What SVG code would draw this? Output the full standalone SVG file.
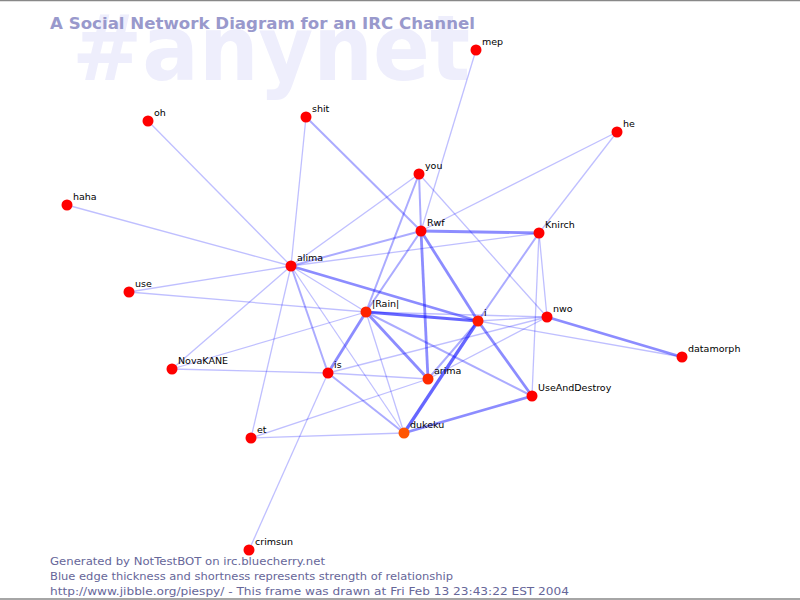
<svg xmlns="http://www.w3.org/2000/svg" width="800" height="600" viewBox="0 0 800 600">
<style>
.bg{font-family:"DejaVu Sans","Liberation Sans",sans-serif;font-weight:bold;font-size:90px;fill:#eeeefc}
.title{font-family:"DejaVu Sans","Liberation Sans",sans-serif;font-weight:bold;font-size:16.5px;fill:#9999cc}
.foot{font-family:"DejaVu Sans","Liberation Sans",sans-serif;font-size:11px;fill:#666699}
.lbl{font-family:"DejaVu Sans","Liberation Sans",sans-serif;font-size:9.5px;fill:#000}
.n{fill:#ff0000}
.e1{stroke:#0000ff;stroke-opacity:0.25;stroke-width:1.3}
.e2{stroke:#0000ff;stroke-opacity:0.33;stroke-width:2}
.e3{stroke:#0000ff;stroke-opacity:0.45;stroke-width:2.8}
.e4{stroke:#0000ff;stroke-opacity:0.6;stroke-width:3.2}
</style>
<rect x="0" y="0" width="800" height="600" fill="#ffffff"/>
<line x1="0" y1="0.5" x2="800" y2="0.5" stroke="#888888" stroke-width="1.5"/>
<line x1="0" y1="599" x2="800" y2="599" stroke="#888888" stroke-width="1.5"/>
<text class="bg" x="72" y="80" textLength="398" lengthAdjust="spacingAndGlyphs">#anynet</text>
<text class="title" x="50" y="29" textLength="425" lengthAdjust="spacingAndGlyphs">A Social Network Diagram for an IRC Channel</text>
<g id="connectors" fill="none">
<line class="e1" x1="476" y1="50" x2="421" y2="231"/>
<line class="e1" x1="148" y1="121" x2="291" y2="266"/>
<line class="e1" x1="306" y1="117" x2="291" y2="266"/>
<line class="e1" x1="67" y1="205" x2="291" y2="266"/>
<line class="e1" x1="617" y1="132" x2="421" y2="231"/>
<line class="e1" x1="617" y1="132" x2="539" y2="233"/>
<line class="e1" x1="419" y1="174" x2="291" y2="266"/>
<line class="e1" x1="419" y1="174" x2="547" y2="317"/>
<line class="e1" x1="129" y1="292" x2="291" y2="266"/>
<line class="e1" x1="129" y1="292" x2="366" y2="312"/>
<line class="e1" x1="172" y1="369" x2="291" y2="266"/>
<line class="e1" x1="172" y1="369" x2="366" y2="312"/>
<line class="e1" x1="172" y1="369" x2="328" y2="373"/>
<line class="e1" x1="251" y1="438" x2="291" y2="266"/>
<line class="e1" x1="251" y1="438" x2="404" y2="433"/>
<line class="e1" x1="251" y1="438" x2="428" y2="379"/>
<line class="e1" x1="249" y1="550" x2="328" y2="373"/>
<line class="e1" x1="291" y1="266" x2="539" y2="233"/>
<line class="e1" x1="291" y1="266" x2="404" y2="433"/>
<line class="e1" x1="291" y1="266" x2="366" y2="312"/>
<line class="e1" x1="366" y1="312" x2="404" y2="433"/>
<line class="e1" x1="366" y1="312" x2="547" y2="317"/>
<line class="e1" x1="539" y1="233" x2="547" y2="317"/>
<line class="e1" x1="539" y1="233" x2="532" y2="396"/>
<line class="e1" x1="478" y1="321" x2="547" y2="317"/>
<line class="e1" x1="478" y1="321" x2="682" y2="357"/>
<line class="e1" x1="328" y1="373" x2="547" y2="317"/>
<line class="e1" x1="328" y1="373" x2="428" y2="379"/>
<line class="e1" x1="428" y1="379" x2="547" y2="317"/>
<line class="e2" x1="306" y1="117" x2="421" y2="231"/>
<line class="e2" x1="419" y1="174" x2="421" y2="231"/>
<line class="e2" x1="419" y1="174" x2="366" y2="312"/>
<line class="e2" x1="421" y1="231" x2="366" y2="312"/>
<line class="e2" x1="291" y1="266" x2="421" y2="231"/>
<line class="e2" x1="291" y1="266" x2="328" y2="373"/>
<line class="e2" x1="539" y1="233" x2="478" y2="321"/>
<line class="e2" x1="366" y1="312" x2="532" y2="396"/>
<line class="e2" x1="328" y1="373" x2="404" y2="433"/>
<line class="e2" x1="478" y1="321" x2="428" y2="379"/>
<line class="e3" x1="291" y1="266" x2="478" y2="321"/>
<line class="e3" x1="421" y1="231" x2="478" y2="321"/>
<line class="e3" x1="421" y1="231" x2="428" y2="379"/>
<line class="e3" x1="421" y1="231" x2="539" y2="233"/>
<line class="e3" x1="478" y1="321" x2="532" y2="396"/>
<line class="e3" x1="547" y1="317" x2="682" y2="357"/>
<line class="e3" x1="404" y1="433" x2="532" y2="396"/>
<line class="e3" x1="366" y1="312" x2="328" y2="373"/>
<line class="e3" x1="366" y1="312" x2="428" y2="379"/>
<line class="e4" x1="478" y1="321" x2="404" y2="433"/>
<line class="e4" x1="366" y1="312" x2="478" y2="321"/>
</g>
<g id="node-mep"><circle class="n" cx="476" cy="50" r="5.5"/><text class="lbl" x="482" y="45">mep</text></g>
<g id="node-oh"><circle class="n" cx="148" cy="121" r="5.5"/><text class="lbl" x="154" y="116">oh</text></g>
<g id="node-shit"><circle class="n" cx="306" cy="117" r="5.5"/><text class="lbl" x="312" y="112">shit</text></g>
<g id="node-he"><circle class="n" cx="617" cy="132" r="5.5"/><text class="lbl" x="623" y="127">he</text></g>
<g id="node-you"><circle class="n" cx="419" cy="174" r="5.5"/><text class="lbl" x="425" y="169">you</text></g>
<g id="node-haha"><circle class="n" cx="67" cy="205" r="5.5"/><text class="lbl" x="73" y="200">haha</text></g>
<g id="node-Rwf"><circle class="n" cx="421" cy="231" r="5.5"/><text class="lbl" x="427" y="226">Rwf</text></g>
<g id="node-Knirch"><circle class="n" cx="539" cy="233" r="5.5"/><text class="lbl" x="545" y="228">Knirch</text></g>
<g id="node-alima"><circle class="n" cx="291" cy="266" r="5.5"/><text class="lbl" x="297" y="261">alima</text></g>
<g id="node-use"><circle class="n" cx="129" cy="292" r="5.5"/><text class="lbl" x="135" y="287">use</text></g>
<g id="node-Rain"><circle cx="366" cy="312" r="5.5" fill="#ff2200"/><text class="lbl" x="372" y="307">|Rain|</text></g>
<g id="node-i"><circle cx="478" cy="321" r="5.5" fill="#ff1a00"/><text class="lbl" x="484" y="316">i</text></g>
<g id="node-nwo"><circle class="n" cx="547" cy="317" r="5.5"/><text class="lbl" x="553" y="312">nwo</text></g>
<g id="node-datamorph"><circle class="n" cx="682" cy="357" r="5.5"/><text class="lbl" x="688" y="352">datamorph</text></g>
<g id="node-NovaKANE"><circle class="n" cx="172" cy="369" r="5.5"/><text class="lbl" x="178" y="364">NovaKANE</text></g>
<g id="node-is"><circle class="n" cx="328" cy="373" r="5.5"/><text class="lbl" x="334" y="368">is</text></g>
<g id="node-arima"><circle cx="428" cy="379" r="5.5" fill="#ff2a00"/><text class="lbl" x="434" y="374">arima</text></g>
<g id="node-UseAndDestroy"><circle class="n" cx="532" cy="396" r="5.5"/><text class="lbl" x="538" y="391">UseAndDestroy</text></g>
<g id="node-et"><circle class="n" cx="251" cy="438" r="5.5"/><text class="lbl" x="257" y="433">et</text></g>
<g id="node-dukeku"><circle cx="404" cy="433" r="5.5" fill="#ff5500"/><text class="lbl" x="410" y="428">dukeku</text></g>
<g id="node-crimsun"><circle class="n" cx="249" cy="550" r="5.5"/><text class="lbl" x="255" y="545">crimsun</text></g>
<text class="foot" x="50" y="565" textLength="275" lengthAdjust="spacingAndGlyphs">Generated by NotTestBOT on irc.bluecherry.net</text>
<text class="foot" x="50" y="580" textLength="403" lengthAdjust="spacingAndGlyphs">Blue edge thickness and shortness represents strength of relationship</text>
<text class="foot" x="50" y="595" textLength="519" lengthAdjust="spacingAndGlyphs">http://www.jibble.org/piespy/ - This frame was drawn at Fri Feb 13 23:43:22 EST 2004</text>
</svg>
